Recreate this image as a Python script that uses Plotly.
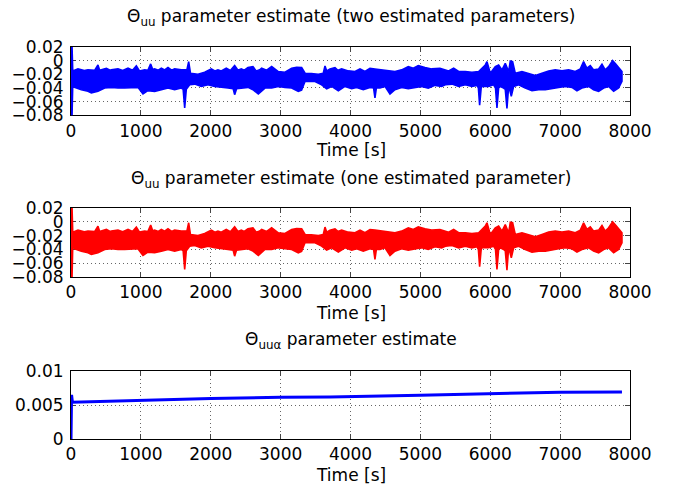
import plotly.graph_objects as go

# ---------------- data ----------------
# Theta_uu (two estimated parameters): upper / lower envelope of the noisy estimate
two_upper_t = [0, 15, 25, 100, 190, 243, 340, 386, 410, 434, 506, 560, 577, 672, 740, 816, 880, 935, 980,
               1054, 1100, 1140, 1170, 1197, 1250, 1293, 1340, 1388, 1440, 1483, 1579, 1660, 1684, 1710,
               1817, 1913, 2008, 2060, 2103, 2150, 2222, 2280, 2342, 2390, 2437, 2480, 2533, 2604, 2650,
               2700, 2728, 2800, 2872, 2967, 3062, 3158, 3229, 3301, 3350, 3440, 3540, 3610, 3635, 3660,
               3706, 3778, 3820, 3873, 3969, 4064, 4136, 4207, 4279, 4350, 4445, 4541, 4636, 4732, 4827,
               4899, 4970, 5066, 5161, 5280, 5350, 5404, 5476, 5548, 5643, 5738, 5834, 5929, 5953, 6001,
               6072, 6120, 6168, 6215, 6263, 6287, 6320, 6358, 6454, 6549, 6645, 6740, 6835, 6931, 7026,
               7122, 7217, 7289, 7336, 7384, 7432, 7480, 7551, 7599, 7646, 7694, 7751, 7799, 7847, 7885]
two_upper_v = [0.02, 0.02, -0.0150, -0.0121, -0.0145, -0.0135, -0.0140, -0.0063, -0.0140, -0.0135, -0.0111,
               -0.0140, -0.0135, -0.0121, -0.0145, -0.0111, -0.0140, -0.0077, -0.0150, -0.0135, -0.0140,
               -0.0048, -0.0130, -0.0121, -0.0140, -0.0111, -0.0135, -0.0101, -0.0140, -0.0121, -0.0135,
               -0.0130, -0.0014, -0.0184, -0.0198, -0.0169, -0.0121, -0.0150, -0.0135, -0.0150, -0.0111,
               -0.0145, -0.0072, -0.0140, -0.0121, -0.0140, -0.0101, -0.0087, -0.0150, -0.0135, -0.0111,
               -0.0140, -0.0087, -0.0159, -0.0169, -0.0111, -0.0097, -0.0101, -0.0184, -0.0190, -0.0198,
               -0.0184, -0.0077, -0.0150, -0.0121, -0.0101, -0.0140, -0.0121, -0.0150, -0.0159, -0.0121,
               -0.0159, -0.0111, -0.0121, -0.0135, -0.0150, -0.0159, -0.0135, -0.0087, -0.0111, -0.0072,
               -0.0101, -0.0121, -0.0111, -0.0135, -0.0150, -0.0111, -0.0159, -0.0159, -0.0169, -0.0159,
               -0.0063, -0.0014, -0.0184, -0.0087, -0.0063, -0.0135, -0.0039, -0.0159, -0.0005, -0.0014,
               -0.0184, -0.0159, -0.0184, -0.0217, -0.0184, -0.0150, -0.0135, -0.0150, -0.0135, -0.0159,
               -0.0121, -0.0014, -0.0111, -0.0072, -0.0135, -0.0121, -0.0053, -0.0135, -0.0087, 0.0000,
               -0.0053, -0.0111, -0.0159]
two_lower_t = [0, 15, 25, 52, 148, 243, 291, 386, 482, 577, 672, 768, 863, 958, 1030, 1100, 1197, 1293, 1388,
               1483, 1579, 1605, 1627, 1650, 1698, 1770, 1865, 1960, 2056, 2151, 2247, 2320, 2342, 2370,
               2437, 2533, 2604, 2633, 2681, 2776, 2872, 2967, 3062, 3158, 3253, 3300, 3349, 3492, 3587,
               3659, 3730, 3826, 3921, 4017, 4088, 4183, 4279, 4330, 4350, 4370, 4422, 4493, 4565, 4636,
               4732, 4827, 4923, 5018, 5113, 5209, 5304, 5357, 5452, 5548, 5643, 5738, 5810, 5830, 5848,
               5870, 5882, 5977, 6048, 6075, 6096, 6120, 6144, 6191, 6215, 6239, 6260, 6272, 6301, 6335,
               6406, 6501, 6597, 6692, 6788, 6883, 6979, 7074, 7169, 7241, 7312, 7408, 7479, 7551, 7623,
               7694, 7766, 7837, 7885]
two_lower_v = [-0.08, -0.08, -0.0353, -0.0391, -0.0425, -0.0449, -0.0473, -0.0449, -0.0401, -0.0391, -0.0401,
               -0.0401, -0.0401, -0.0391, -0.0488, -0.0440, -0.0449, -0.0425, -0.0401, -0.0425, -0.0401,
               -0.0420, -0.0691, -0.0420, -0.0353, -0.0343, -0.0377, -0.0353, -0.0377, -0.0391, -0.0401,
               -0.0410, -0.0498, -0.0410, -0.0401, -0.0391, -0.0425, -0.0449, -0.0488, -0.0401, -0.0401,
               -0.0377, -0.0391, -0.0401, -0.0449, -0.0430, -0.0304, -0.0304, -0.0353, -0.0411, -0.0377,
               -0.0440, -0.0377, -0.0411, -0.0391, -0.0425, -0.0391, -0.0400, -0.0546, -0.0401, -0.0401,
               -0.0377, -0.0488, -0.0425, -0.0391, -0.0411, -0.0391, -0.0377, -0.0401, -0.0362, -0.0377,
               -0.0353, -0.0343, -0.0377, -0.0353, -0.0377, -0.0362, -0.0400, -0.0652, -0.0400, -0.0377,
               -0.0377, -0.0353, -0.0400, -0.0691, -0.0400, -0.0377, -0.0401, -0.0420, -0.0700, -0.0420,
               -0.0401, -0.0522, -0.0377, -0.0353, -0.0401, -0.0440, -0.0425, -0.0425, -0.0411, -0.0391,
               -0.0377, -0.0391, -0.0440, -0.0401, -0.0377, -0.0425, -0.0449, -0.0401, -0.0377, -0.0449,
               -0.0401, -0.0304]

# Theta_uu (one estimated parameter): reads identically to the two-parameter case
one_upper_t = list(two_upper_t)
one_upper_v = list(two_upper_v)
one_lower_t = list(two_lower_t)
one_lower_v = list(two_lower_v)

# Theta_uu_alpha estimate
alpha_t = [0, 8, 20, 1000, 2000, 3000, 3706, 5000, 6000, 7000, 7885]
alpha_v = [0.0, 0.0065, 0.0054, 0.00571, 0.00594, 0.00615, 0.00619, 0.00644, 0.00663, 0.00688, 0.00693]

x_ticks = [0, 1000, 2000, 3000, 4000, 5000, 6000, 7000, 8000]
y_ticks_uu = [-0.08, -0.06, -0.04, -0.02, 0, 0.02]
y_text_uu = ["\u22120.08", "\u22120.06", "\u22120.04", "\u22120.02", "0", "0.02"]
y_ticks_alpha = [0, 0.005, 0.01]
y_text_alpha = ["0", "0.005", "0.01"]

titles = ["\u0398<sub>uu</sub> parameter estimate (two estimated parameters)",
          "\u0398<sub>uu</sub> parameter estimate (one estimated parameter)",
          "\u0398<sub>uu\u03b1</sub> parameter estimate"]
xlabel = "Time [s]"

# ---------------- figure ----------------
FONT = "DejaVu Sans, Verdana, sans-serif"
FS = 17
OFF = 8  # page body margin of the html page
W, H = 687 - OFF, 488 - OFF
ML, MR = 71 - OFF, 687 - 630
MT, MB = 47 - OFF, 488 - 439
PH = H - MT - MB


def py2paper(py):
    # py: pixel row in the 687x488 window
    return (H - MB - (py - OFF)) / PH


fig = go.Figure()

doms = [(py2paper(115.3), 1.0), (py2paper(277), py2paper(208)), (0.0, py2paper(371))]


def band(ut, uv, lt, lv, color, ax):
    fig.add_trace(go.Scatter(
        x=ut + lt[::-1], y=uv + lv[::-1], mode="lines", fill="toself",
        fillcolor=color, line=dict(color=color, width=1.6),
        xaxis="x" + ax, yaxis="y" + ax, showlegend=False, hoverinfo="skip"))


band(two_upper_t, two_upper_v, two_lower_t, two_lower_v, "#0000FF", "")
band(one_upper_t, one_upper_v, one_lower_t, one_lower_v, "#FF0000", "2")
fig.add_trace(go.Scatter(x=alpha_t, y=alpha_v, mode="lines",
                         line=dict(color="#0000FF", width=3),
                         xaxis="x3", yaxis="y3", showlegend=False))

GRID = dict(showgrid=True, gridcolor="#666666", griddash="1px,3px", gridwidth=1)
common_x = dict(range=[0, 8000], tickvals=x_ticks, ticks="inside", ticklen=5,
                showline=True, linecolor="black", linewidth=1, mirror="ticks",
                zeroline=False, automargin=False, layer="below traces",
                tickfont=dict(size=FS, color="black", family=FONT),
                domain=[0, 1], **GRID)
common_y = dict(ticks="inside", ticklen=5, showline=True, linecolor="black", linewidth=1,
                mirror="ticks", zeroline=False, automargin=False, layer="below traces",
                ticklabelstandoff=3,
                tickfont=dict(size=FS, color="black", family=FONT), **GRID)

layout = dict(width=W, height=H, margin=dict(l=ML, r=MR, t=MT, b=MB, autoexpand=False),
              paper_bgcolor="white", plot_bgcolor="white", showlegend=False,
              font=dict(family=FONT, color="black"))
for i, ax in enumerate(["", "2", "3"]):
    xa = dict(common_x)
    xa["anchor"] = "y" + ax
    ya = dict(common_y)
    ya["anchor"] = "x" + ax
    ya["domain"] = list(doms[i])
    if i < 2:
        ya.update(range=[-0.08, 0.02], tickvals=y_ticks_uu, ticktext=y_text_uu)
    else:
        ya.update(range=[0, 0.01], tickvals=y_ticks_alpha, ticktext=y_text_alpha)
    layout["xaxis" + ax] = xa
    layout["yaxis" + ax] = ya

fig.update_layout(**layout)

title_py = [18, 179, 340]
label_py = [150, 313, 475]
for i in range(3):
    fig.add_annotation(text=titles[i], xref="paper", yref="paper", x=0.5,
                       y=py2paper(title_py[i]), xanchor="center", yanchor="middle",
                       showarrow=False, font=dict(size=FS, color="black", family=FONT))
    fig.add_annotation(text=xlabel, xref="paper", yref="paper", x=0.5,
                       y=py2paper(label_py[i]), xanchor="center", yanchor="middle",
                       showarrow=False, font=dict(size=FS, color="black", family=FONT))

fig.write_html("out.html")
